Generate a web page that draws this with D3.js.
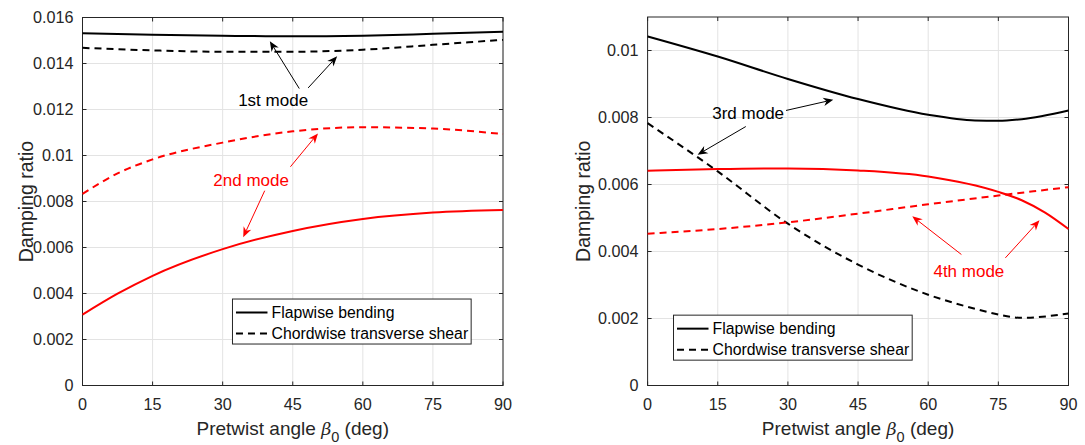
<!DOCTYPE html>
<html>
<head>
<meta charset="utf-8">
<script src="https://cdn.jsdelivr.net/npm/d3@7"></script>
<style>
  body { margin: 0; background: #fff; }
  svg { display: block; }
  text { font-family: "Liberation Sans", Arial, Helvetica, sans-serif; fill: #262626; }
</style>
</head>
<body>
<svg id="chart" width="1085" height="445"></svg>
<script>
// ---- data: damping ratio vs. pretwist angle ----
const xTicks = [0, 15, 30, 45, 60, 75, 90];
const yTicksLeft = [0, 0.002, 0.004, 0.006, 0.008, 0.01, 0.012, 0.014, 0.016];
const yTicksRight = [0, 0.002, 0.004, 0.006, 0.008, 0.01];

// 1st / 2nd modes (left panel)
const mode1Angles = [0, 15, 30, 45, 60, 75, 90];
const flap1 = [0.01532, 0.01525, 0.01521, 0.01518, 0.01521, 0.01529, 0.01538];
const chord1 = [0.01468, 0.01457, 0.01451, 0.01451, 0.01460, 0.01481, 0.01503];
const mode2Angles = [0, 7.5, 15, 30, 45, 60, 75, 90];
const flap2 = [0.00308, 0.00399, 0.00477, 0.00593, 0.00672, 0.00724, 0.00752, 0.00763];
const chord2 = [0.00833, 0.00922, 0.00983, 0.01056, 0.01105, 0.01123, 0.01117, 0.01093];

// 3rd / 4th modes (right panel)
const mode3Angles = [0, 15, 30, 45, 60, 70, 75, 80, 90];
const flap3 = [0.01042, 0.00982, 0.00915, 0.00855, 0.00808, 0.00791, 0.00790, 0.00795, 0.00821];
const chord3 = [0.00783, 0.00639, 0.00483, 0.00361, 0.00271, 0.00229, 0.00212, 0.00202, 0.00215];
const flap4Angles = [0, 15, 30, 45, 60, 75, 80, 85, 90];
const flap4 = [0.00641, 0.00646, 0.00648, 0.00642, 0.00624, 0.00578, 0.00553, 0.00516, 0.00467];
const chord4Angles = [0, 15, 30, 45, 60, 75, 90];
const chord4 = [0.00453, 0.00467, 0.00487, 0.00513, 0.00541, 0.00567, 0.00592];

const legendLabels = ["Flapwise bending", "Chordwise transverse shear"];
const modeLabels = ["1st mode", "2nd mode", "3rd mode", "4th mode"];

const RED = "#ff0000", BLACK = "#000000", AXIS = "#262626", GRID = "#e3e3e3";
const DASH = "7,5";

const svg = d3.select("#chart");
const zip = (xs, ys) => xs.map((x, i) => [x, ys[i]]);
const fmt = d3.format("~g");

// thin annotation arrow with a notched head
function arrow(g, x1, y1, x2, y2, color) {
  const ang = Math.atan2(y2 - y1, x2 - x1);
  const L = 10, W = 4.2, notch = 3;
  const ux = Math.cos(ang), uy = Math.sin(ang);
  const px = -uy, py = ux;
  const bx = x2 - ux * L, by = y2 - uy * L;
  const nx = x2 - ux * (L - notch), ny = y2 - uy * (L - notch);
  g.append("line").attr("x1", x1).attr("y1", y1).attr("x2", nx).attr("y2", ny)
    .attr("stroke", color).attr("stroke-width", 1);
  g.append("path")
    .attr("d", `M${x2},${y2}L${bx + px * W},${by + py * W}L${nx},${ny}L${bx - px * W},${by - py * W}Z`)
    .attr("fill", color).attr("stroke", "none");
}

function panel(cfg) {
  const g = svg.append("g");
  const x = d3.scaleLinear().domain([0, 90]).range([cfg.left, cfg.right]);
  const y = d3.scaleLinear().domain([0, cfg.yMax]).range([cfg.bottom, cfg.top]);

  // grid
  g.append("g").selectAll("line").data(xTicks).join("line")
    .attr("x1", d => x(d)).attr("x2", d => x(d))
    .attr("y1", cfg.top).attr("y2", cfg.bottom)
    .attr("stroke", GRID).attr("stroke-width", 1);
  g.append("g").selectAll("line").data(cfg.yTicks).join("line")
    .attr("y1", d => y(d)).attr("y2", d => y(d))
    .attr("x1", cfg.left).attr("x2", cfg.right)
    .attr("stroke", GRID).attr("stroke-width", 1);

  // box and inward ticks
  g.append("rect").attr("x", cfg.left).attr("y", cfg.top)
    .attr("width", cfg.right - cfg.left).attr("height", cfg.bottom - cfg.top)
    .attr("fill", "none").attr("stroke", AXIS).attr("stroke-width", 1);
  const tl = 4;
  const tk = g.append("g").attr("stroke", AXIS).attr("stroke-width", 1);
  xTicks.forEach(d => {
    tk.append("line").attr("x1", x(d)).attr("x2", x(d)).attr("y1", cfg.bottom).attr("y2", cfg.bottom - tl);
    tk.append("line").attr("x1", x(d)).attr("x2", x(d)).attr("y1", cfg.top).attr("y2", cfg.top + tl);
  });
  cfg.yTicks.forEach(d => {
    tk.append("line").attr("y1", y(d)).attr("y2", y(d)).attr("x1", cfg.left).attr("x2", cfg.left + tl);
    tk.append("line").attr("y1", y(d)).attr("y2", y(d)).attr("x1", cfg.right).attr("x2", cfg.right - tl);
  });

  // tick labels
  g.append("g").selectAll("text").data(xTicks).join("text")
    .attr("x", d => x(d)).attr("y", cfg.bottom + 24.5)
    .attr("text-anchor", "middle").attr("font-size", 16.2).text(d => d);
  g.append("g").selectAll("text").data(cfg.yTicks).join("text")
    .attr("x", cfg.left - 9).attr("y", d => y(d)).attr("dy", "0.35em")
    .attr("text-anchor", "end").attr("font-size", 16.2).text(d => fmt(d));

  // axis titles
  const xl = g.append("text").attr("x", (cfg.left + cfg.right) / 2).attr("y", 435)
    .attr("text-anchor", "middle").attr("font-size", 19);
  xl.append("tspan").text("Pretwist angle ");
  xl.append("tspan").attr("font-style", "italic").attr("font-family", "DejaVu Serif, serif").attr("font-size", 17.5).text("β");
  xl.append("tspan").attr("font-size", 14.5).attr("dy", 7).text("0");
  xl.append("tspan").attr("dy", -7).text(" (deg)");
  g.append("text")
    .attr("transform", `translate(${cfg.ylabelX},${(cfg.top + cfg.bottom) / 2}) rotate(-90)`)
    .attr("text-anchor", "middle").attr("font-size", 19.5).text("Damping ratio");

  // curves
  const line = d3.line().x(d => x(d[0])).y(d => y(d[1])).curve(d3.curveMonotoneX);
  cfg.series.forEach(s => {
    g.append("path").datum(zip(s.xs, s.ys)).attr("d", line)
      .attr("fill", "none").attr("stroke", s.color).attr("stroke-width", 2)
      .attr("stroke-dasharray", s.dashed ? DASH : null);
  });

  // mode annotations
  cfg.notes.forEach(n => {
    const ag = g.append("g");
    n.arrows.forEach(a => arrow(ag, x(a[0]), y(a[1]), x(a[2]), y(a[3]), n.color));
    g.append("text").attr("x", x(n.at[0])).attr("y", y(n.at[1])).attr("dy", "0.35em")
      .attr("text-anchor", "middle").attr("font-size", 17)
      .style("fill", n.color).text(n.label);
  });

  // legend
  const lx = x(cfg.legendAt[0]), ly = y(cfg.legendAt[1]);
  const lg = g.append("g").attr("transform", `translate(${lx},${ly})`);
  const box = lg.append("rect").attr("fill", "#fff").attr("stroke", AXIS).attr("stroke-width", 1);
  let maxW = 0;
  legendLabels.forEach((lab, i) => {
    const ry = 13.5 + i * 21;
    lg.append("line").attr("x1", 3.5).attr("x2", 35).attr("y1", ry).attr("y2", ry)
      .attr("stroke", BLACK).attr("stroke-width", 2)
      .attr("stroke-dasharray", i === 1 ? "7,5" : null);
    const t = lg.append("text").attr("x", 39).attr("y", ry).attr("dy", "0.35em")
      .attr("font-size", 15.8).style("fill", "#000").text(lab);
    maxW = Math.max(maxW, t.node().getComputedTextLength());
  });
  box.attr("x", 0).attr("y", 0).attr("width", 39 + maxW + 3).attr("height", 45);
}

panel({
  left: 82.5, right: 503, top: 17.5, bottom: 385.5, yMax: 0.016, yTicks: yTicksLeft, ylabelX: 33,
  series: [
    { xs: mode1Angles, ys: flap1, color: BLACK, dashed: false },
    { xs: mode1Angles, ys: chord1, color: BLACK, dashed: true },
    { xs: mode2Angles, ys: chord2, color: RED, dashed: true },
    { xs: mode2Angles, ys: flap2, color: RED, dashed: false }
  ],
  notes: [
    { label: modeLabels[0], color: BLACK, at: [40.8, 0.0124],
      arrows: [[46.4, 0.01291, 40.1, 0.01497], [48.3, 0.01294, 54.5, 0.01431]] },
    { label: modeLabels[1], color: RED, at: [36.1, 0.00893],
      arrows: [[44.5, 0.00951, 50.4, 0.01096], [39.0, 0.00847, 34.4, 0.00645]] }
  ],
  legendAt: [32.1, 0.00376]
});

panel({
  left: 647.6, right: 1068.5, top: 17, bottom: 385.5, yMax: 0.011, yTicks: yTicksRight, ylabelX: 589.5,
  series: [
    { xs: mode3Angles, ys: flap3, color: BLACK, dashed: false },
    { xs: mode3Angles, ys: chord3, color: BLACK, dashed: true },
    { xs: flap4Angles, ys: flap4, color: RED, dashed: false },
    { xs: chord4Angles, ys: chord4, color: RED, dashed: true }
  ],
  notes: [
    { label: modeLabels[2], color: BLACK, at: [21.5, 0.00813],
      arrows: [[29.6, 0.00821, 39.7, 0.00853], [21.0, 0.00773, 10.7, 0.00689]] },
    { label: modeLabels[3], color: RED, at: [68.7, 0.00343],
      arrows: [[67.1, 0.00391, 56.6, 0.00505], [76.5, 0.00381, 83.8, 0.00493]] }
  ],
  legendAt: [5.54, 0.0021]
});
</script>
</body>
</html>
